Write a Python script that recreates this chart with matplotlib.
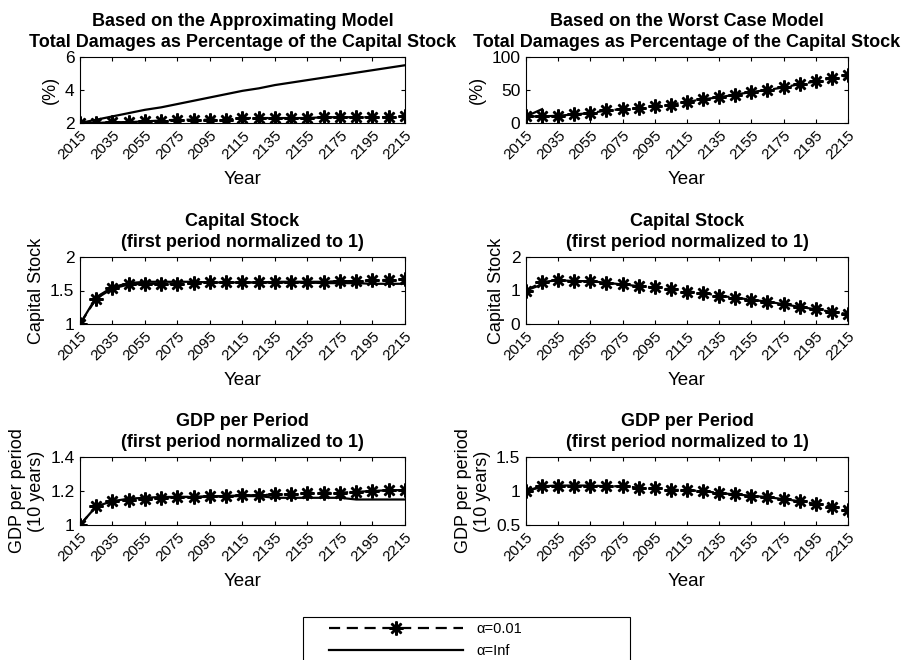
import matplotlib
matplotlib.use("Agg")
import matplotlib.pyplot as plt
from matplotlib.patches import Rectangle

plt.rcParams['font.family'] = ['Liberation Sans', 'DejaVu Sans']

years = list(range(2015, 2216, 10))
xticks = list(range(2015, 2216, 20))

# damages, approximating model (%)
dam_app_a = [2.0, 2.0, 2.05, 2.05, 2.1, 2.15, 2.2, 2.2, 2.2, 2.2, 2.3, 2.3, 2.3,
             2.3, 2.3, 2.35, 2.35, 2.35, 2.35, 2.35, 2.4]
dam_app_inf = [2.0, 2.2, 2.4, 2.6, 2.8, 2.95, 3.15, 3.35, 3.55, 3.75, 3.95, 4.1,
               4.3, 4.45, 4.6, 4.75, 4.9, 5.05, 5.2, 5.35, 5.5]
# damages, worst case model (%)
dam_wc_a = [10, 10, 11, 13, 15, 19, 21, 22, 26, 28, 32, 36, 39, 43, 47, 50, 54,
            59, 63, 68, 72]
dam_wc_inf = [10, 21]

# capital stock
cap_app_a = [1.0, 1.38, 1.53, 1.59, 1.6, 1.6, 1.6, 1.61, 1.62, 1.62, 1.62, 1.62,
             1.63, 1.63, 1.63, 1.63, 1.64, 1.64, 1.65, 1.66, 1.67]
cap_app_inf = [1.0, 1.4, 1.55, 1.61, 1.63, 1.63, 1.63, 1.63, 1.62, 1.62, 1.62,
               1.62, 1.62, 1.62, 1.62, 1.61, 1.61, 1.61, 1.6, 1.6, 1.6]
cap_wc_a = [1.0, 1.25, 1.31, 1.28, 1.28, 1.23, 1.18, 1.13, 1.09, 1.03, 0.97, 0.93,
            0.84, 0.79, 0.72, 0.67, 0.59, 0.51, 0.44, 0.36, 0.3]
cap_wc_inf = [1.0, 1.18]

# gdp per period
gdp_app_a = [1.0, 1.11, 1.14, 1.15, 1.155, 1.16, 1.165, 1.165, 1.17, 1.17, 1.175,
             1.175, 1.18, 1.18, 1.19, 1.19, 1.19, 1.195, 1.2, 1.205, 1.205]
gdp_app_inf = [1.0, 1.11, 1.14, 1.155, 1.16, 1.165, 1.165, 1.165, 1.165, 1.17,
               1.17, 1.17, 1.16, 1.16, 1.16, 1.16, 1.16, 1.15, 1.15, 1.15, 1.15]
gdp_wc_a = [1.0, 1.07, 1.08, 1.08, 1.08, 1.07, 1.07, 1.05, 1.04, 1.02, 1.01, 1.0,
            0.97, 0.95, 0.93, 0.91, 0.88, 0.85, 0.81, 0.77, 0.72]
gdp_wc_inf = [1.0, 1.06]

panels = [
    ("Based on the Approximating Model\nTotal Damages as Percentage of the Capital Stock",
     "(%)", dam_app_a, dam_app_inf, (2, 6), [2, 4, 6], ["2", "4", "6"]),
    ("Based on the Worst Case Model\nTotal Damages as Percentage of the Capital Stock",
     "(%)", dam_wc_a, dam_wc_inf, (0, 100), [0, 50, 100], ["0", "50", "100"]),
    ("Capital Stock\n(first period normalized to 1)",
     "Capital Stock", cap_app_a, cap_app_inf, (1, 2), [1, 1.5, 2], ["1", "1.5", "2"]),
    ("Capital Stock\n(first period normalized to 1)",
     "Capital Stock", cap_wc_a, cap_wc_inf, (0, 2), [0, 1, 2], ["0", "1", "2"]),
    ("GDP per Period\n(first period normalized to 1)",
     "GDP per period\n(10 years)", gdp_app_a, gdp_app_inf, (1, 1.4), [1, 1.2, 1.4],
     ["1", "1.2", "1.4"]),
    ("GDP per Period\n(first period normalized to 1)",
     "GDP per period\n(10 years)", gdp_wc_a, gdp_wc_inf, (0.5, 1.5), [0.5, 1, 1.5],
     ["0.5", "1", "1.5"]),
]

lefts = [80 / 905, 526 / 905]
widths = [325 / 905, 322 / 905]
bottoms = [1 - 123 / 660, 1 - 324 / 660, 1 - 525 / 660]
heights = [66 / 660, 67 / 660, 68 / 660]

star = (8, 2, 0)
fig = plt.figure(figsize=(9.05, 6.6), dpi=100)
handles = None
for i, (title, ylab, ya, yinf, ylim, yt, ytl) in enumerate(panels):
    r, c = divmod(i, 2)
    ax = fig.add_axes([lefts[c], bottoms[r], widths[c], heights[r]])
    h1, = ax.plot(years, ya, color='black', linestyle=(0, (5, 3)), linewidth=1.6,
                  marker=star, markersize=10, markeredgewidth=1.8,
                  label='α=0.01')
    h2, = ax.plot(years[:len(yinf)], yinf, color='black', linestyle='-',
                  linewidth=1.6, label='α=Inf')
    if handles is None:
        handles = [h1, h2]
    ax.set_xlim(2015, 2215)
    ax.set_ylim(*ylim)
    ax.set_xticks(xticks)
    ax.set_xticklabels([str(x) for x in xticks], rotation=45, ha='right',
                       rotation_mode='anchor', fontsize=11)
    ax.set_yticks(yt)
    ax.set_yticklabels(ytl, fontsize=12.5)
    ax.tick_params(direction='in', top=True, right=True, length=3, width=0.8, pad=4)
    ax.set_title(title, fontsize=13, fontweight='bold', pad=7, linespacing=1.3)
    ax.set_ylabel(ylab, fontsize=13, linespacing=1.1, labelpad=4)
    ax.set_xlabel("Year", fontsize=13.5, labelpad=6)

# legend box, cut off by the bottom edge of the figure
fig.patches.append(Rectangle((303 / 905, -0.05), 327 / 905, 0.05 + 43 / 660,
                             transform=fig.transFigure, fill=False,
                             edgecolor='black', linewidth=0.8))
fig.legend(handles, ['α=0.01', 'α=Inf'],
           loc='upper left', bbox_to_anchor=(324 / 905, 1 - 617 / 660),
           fontsize=10.5, handlelength=9.2, handletextpad=0.9,
           borderpad=0.35, labelspacing=0.55, frameon=False, borderaxespad=0)

fig.savefig("out.png", dpi=100)
